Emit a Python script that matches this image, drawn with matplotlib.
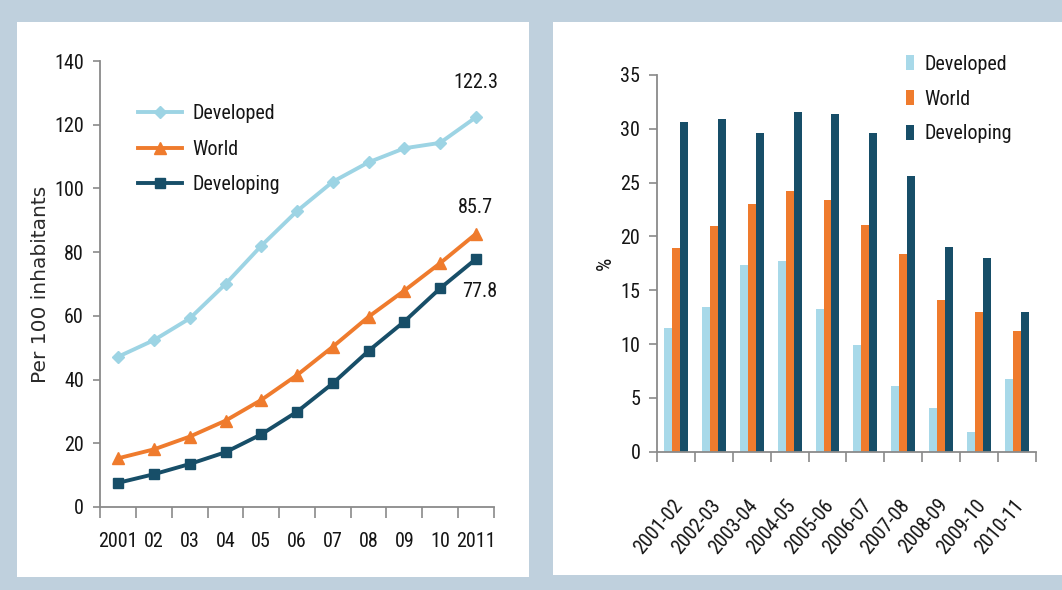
import matplotlib
matplotlib.use("Agg")
import matplotlib.pyplot as plt
from matplotlib import font_manager as fm
from matplotlib.patches import Rectangle
from matplotlib.transforms import ScaledTranslation
import numpy as np

# ---- data: left chart (per 100 inhabitants) ----
years = ["2001", "02", "03", "04", "05", "06", "07", "08", "09", "10", "2011"]
developed_line = [47.2, 52.4, 59.2, 70.0, 82.0, 92.9, 102.1, 108.2, 112.6, 114.3, 122.3]
world_line = [15.3, 18.1, 22.1, 27.1, 33.6, 41.4, 50.3, 59.7, 67.9, 76.5, 85.7]
developing_line = [7.6, 10.3, 13.5, 17.2, 22.8, 29.9, 38.8, 49.0, 58.2, 68.6, 77.8]
end_labels = ["122.3", "85.7", "77.8"]

# ---- data: right chart (% growth) ----
periods = ["2001-02", "2002-03", "2003-04", "2004-05", "2005-06",
           "2006-07", "2007-08", "2008-09", "2009-10", "2010-11"]
developed_bar = [11.5, 13.4, 17.3, 17.7, 13.3, 9.9, 6.1, 4.1, 1.8, 6.8]
world_bar = [18.9, 21.0, 23.0, 24.2, 23.4, 21.1, 18.4, 14.1, 13.0, 11.2]
developing_bar = [30.6, 30.9, 29.6, 31.6, 31.4, 29.6, 25.6, 19.0, 18.0, 13.0]

C_DEV_LINE = "#9dd4e4"
C_DEV_BAR = "#a8d9e9"
C_WORLD = "#ef7b2d"
C_DEVING = "#174e68"
BG = "#bfd0dd"
AX = "#8a8a8a"
TXT = "#151515"

# pick a narrow font if one is available
names = {f.name for f in fm.fontManager.ttflist}
narrow = None
for cand in ["Liberation Sans Narrow", "Roboto Condensed", "Open Sans Condensed",
             "DejaVu Sans Condensed"]:
    if cand in names:
        narrow = cand
        break
stretch = "normal"
if narrow is None:
    if any(f.name == "DejaVu Sans" and f.stretch == "condensed" for f in fm.fontManager.ttflist):
        narrow = "DejaVu Sans"
        stretch = "condensed"
    else:
        narrow = "Roboto"
plt.rcParams["font.family"] = [narrow, "DejaVu Sans"]
plt.rcParams["font.stretch"] = stretch

fig = plt.figure(figsize=(10.62, 5.90), dpi=100)
fig.patch.set_facecolor(BG)
fig.patches.append(Rectangle((0.016, 0.022), 0.482, 0.941, transform=fig.transFigure,
                             facecolor="white", edgecolor="none", zorder=-10))
fig.patches.append(Rectangle((0.5207, 0.0254), 0.4793, 0.9373, transform=fig.transFigure,
                             facecolor="white", edgecolor="none", zorder=-10))

# ---------------- left chart ----------------
ax1 = fig.add_axes([0.0946, 0.1407, 0.3702, 0.7559])
ax1.set_facecolor("none")
x = np.arange(len(years))
ax1.plot(x, developed_line, color=C_DEV_LINE, lw=2.8, marker="D", ms=6, label="Developed")
ax1.plot(x, world_line, color=C_WORLD, lw=2.8, marker="^", ms=9, label="World")
ax1.plot(x, developing_line, color=C_DEVING, lw=2.8, marker="s", ms=7.5, label="Developing")
ax1.set_xlim(-0.5, len(years) - 0.5)
ax1.set_ylim(0, 140)
ax1.set_yticks(np.arange(0, 141, 20))
ax1.set_xticks(x)
ax1.set_xticklabels(years)
ax1.set_xticks(np.arange(-0.5, len(years), 1), minor=True)
ax1.tick_params(axis="x", which="major", length=0, pad=18, labelsize=14.5, colors=TXT)
ax1.tick_params(axis="x", which="minor", length=8, width=1.2, color=AX, direction="out")
ax1.tick_params(axis="y", length=5, width=1.2, color=AX, pad=7, labelsize=14.5, colors=TXT)
for s in ["top", "right"]:
    ax1.spines[s].set_visible(False)
for s in ["left", "bottom"]:
    ax1.spines[s].set_color(AX)
    ax1.spines[s].set_linewidth(1.3)
ax1.set_ylabel("Per 100 inhabitants", family="DejaVu Sans", fontsize=14.5,
               color="#2a2a2a", labelpad=3)
ax1.annotate(end_labels[0], (x[-1], developed_line[-1]), xytext=(0, 25),
             textcoords="offset points", ha="center", va="center", fontsize=14.5, color=TXT)
ax1.annotate(end_labels[1], (x[-1], world_line[-1]), xytext=(0, 19),
             textcoords="offset points", ha="center", va="center", fontsize=14.5, color=TXT)
ax1.annotate(end_labels[2], (x[-1], developing_line[-1]), xytext=(2.5, -23),
             textcoords="offset points", ha="center", va="center", fontsize=14.5, color=TXT)
leg1 = ax1.legend(loc="upper left", bbox_to_anchor=(0.130, 0.823),
                  bbox_transform=fig.transFigure, frameon=False, borderpad=0,
                  borderaxespad=0, fontsize=14.5, handlelength=2.2, handletextpad=0.5,
                  labelspacing=0.82)
for t in leg1.get_texts():
    t.set_color(TXT)

# ---------------- right chart ----------------
ax2 = fig.add_axes([0.6186, 0.2344, 0.3569, 0.6385])
ax2.set_facecolor("none")
xb = np.arange(len(periods))
w = 0.21
ax2.bar(xb - w, developed_bar, width=w, color=C_DEV_BAR, label="Developed")
ax2.bar(xb, world_bar, width=w, color=C_WORLD, label="World")
ax2.bar(xb + w, developing_bar, width=w, color=C_DEVING, label="Developing")
ax2.set_xlim(-0.5, len(periods) - 0.5)
ax2.set_ylim(0, 35)
ax2.set_yticks(np.arange(0, 36, 5))
ax2.set_xticks(xb)
ax2.set_xticklabels(periods, rotation=50, ha="right", va="center", rotation_mode="anchor")
ax2.set_xticks(np.arange(-0.5, len(periods), 1), minor=True)
ax2.tick_params(axis="x", which="major", length=0, pad=36, labelsize=14.5, colors=TXT)
ax2.tick_params(axis="x", which="minor", length=7, width=1.2, color=AX, direction="out")
ax2.tick_params(axis="y", length=6, width=1.2, color=AX, pad=6, labelsize=14.5, colors=TXT)
offset = ScaledTranslation(3 / 100, 0, fig.dpi_scale_trans)
for lbl in ax2.get_xticklabels():
    lbl.set_transform(lbl.get_transform() + offset)
for s in ["top", "right"]:
    ax2.spines[s].set_visible(False)
for s in ["left", "bottom"]:
    ax2.spines[s].set_color(AX)
    ax2.spines[s].set_linewidth(1.3)
ax2.set_ylabel("%", fontsize=15, color=TXT, labelpad=4)
leg2 = ax2.legend(loc="upper left", bbox_to_anchor=(0.853, 0.907),
                  bbox_transform=fig.transFigure, frameon=False, borderpad=0,
                  borderaxespad=0, fontsize=14.5, handlelength=0.42, handleheight=0.78,
                  handletextpad=0.5, labelspacing=0.78)
for t in leg2.get_texts():
    t.set_color(TXT)

fig.savefig("out.png", dpi=100, facecolor=fig.get_facecolor())
